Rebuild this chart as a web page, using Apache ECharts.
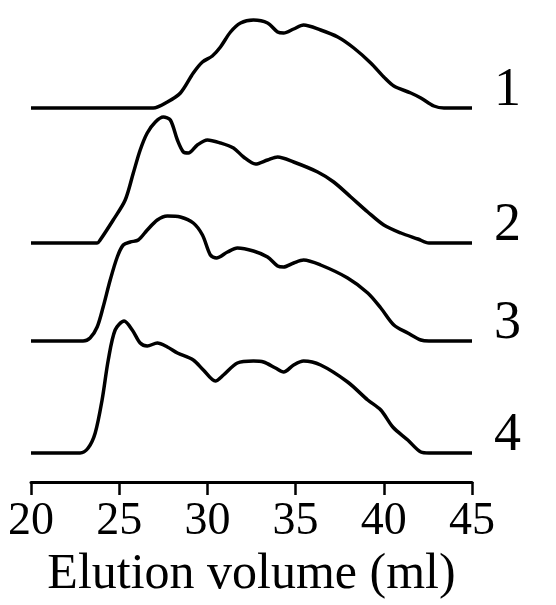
<!DOCTYPE html>
<html>
<head>
<meta charset="utf-8">
<script src="https://cdn.jsdelivr.net/npm/echarts@6/dist/echarts.min.js"></script>
<style>
  html, body { margin: 0; padding: 0; background: #fff; }
  #chart { width: 556px; height: 605px; }
</style>
</head>
<body>
<div id="chart"></div>
<script>
// elution volume (ml) / detector signal
var vol1 = [20, 26.93, 27.73, 28.47, 29.2, 29.72, 30.28, 30.74, 31.31, 31.88, 32.61, 33.41, 33.98, 34.32, 34.89, 35.45, 36.42, 37.39, 38.3, 39.26, 40.0, 40.57, 41.53, 42.1, 42.84, 43.41, 45];
var sig1 = [0, 0, 6, 15, 35, 46, 52, 61, 76, 85, 88, 85, 76, 75, 79, 83, 78, 71, 60, 45, 31, 22, 15, 10, 2, 0, 0];

var vol2 = [20, 23.75, 23.92, 24.66, 25.34, 25.8, 26.19, 26.59, 27.05, 27.5, 27.9, 28.3, 28.64, 28.92, 29.43, 30.0, 30.74, 31.48, 32.05, 32.73, 33.41, 33.98, 34.89, 36.25, 37.16, 38.13, 39.09, 40.0, 40.97, 41.93, 42.56, 45];
var sig2 = [0, 0, 3, 23, 43, 70, 93, 110, 121, 126, 123, 103, 91, 90, 98, 103, 100, 95, 86, 79, 83, 86, 81, 71, 61, 46, 31, 18, 10, 4, 0, 0];

var vol3 = [20, 22.95, 23.35, 23.75, 24.09, 24.49, 24.89, 25.23, 25.63, 26.08, 26.59, 27.16, 27.73, 28.47, 29.2, 29.72, 30.17, 30.51, 31.14, 31.7, 32.61, 33.41, 33.98, 34.32, 34.89, 35.45, 36.42, 37.95, 39.09, 39.83, 40.57, 41.36, 42.1, 42.56, 45];
var sig3 = [0, 0, 3, 14, 34, 61, 84, 96, 99, 101, 111, 121, 125, 124, 118, 106, 86, 83, 89, 93, 90, 84, 75, 74, 78, 81, 76, 63, 48, 33, 16, 8, 1, 0, 0];

var vol4 = [20, 22.78, 23.24, 23.64, 24.03, 24.38, 24.77, 25.28, 25.74, 26.19, 26.59, 27.16, 27.73, 28.3, 29.2, 29.77, 30.45, 30.91, 31.7, 32.61, 33.18, 33.86, 34.32, 34.89, 35.45, 36.42, 37.95, 39.09, 39.83, 40.51, 41.36, 42.1, 42.56, 45];
var sig4 = [0, 0, 5, 20, 53, 93, 123, 132, 123, 110, 107, 110, 106, 100, 93, 83, 72, 78, 90, 92, 91, 85, 81, 88, 92, 88, 71, 53, 43, 26, 13, 1, 0, 0];

var traceNames = ['1', '2', '3', '4'];
var traceOffsets = [374, 239, 141, 29];
var xTicks = [20, 25, 30, 35, 40, 45];

var vols = [vol1, vol2, vol3, vol4];
var sigs = [sig1, sig2, sig3, sig4];
var serif = '"Liberation Serif", "Times New Roman", serif';

var series = traceNames.map(function (name, k) {
    return {
        name: name,
        type: 'line',
        smooth: 0.3,
        symbol: 'none',
        lineStyle: { color: '#000', width: 3.5 },
        data: vols[k].map(function (v, i) {
            return [v, traceOffsets[k] + sigs[k][i]];
        }),
        endLabel: {
            show: true,
            formatter: '{a}',
            color: '#000',
            fontFamily: serif,
            fontSize: 54,
            verticalAlign: 'middle',
            offset: [14, -17]
        }
    };
});

var chart = echarts.init(document.getElementById('chart'));
chart.setOption({
    animation: false,
    backgroundColor: '#fff',
    grid: { left: 31, right: 84, top: 2, bottom: 123 },
    xAxis: {
        type: 'value',
        min: xTicks[0],
        max: xTicks[xTicks.length - 1],
        interval: 5,
        name: 'Elution volume (ml)',
        nameLocation: 'middle',
        nameGap: 57,
        nameTextStyle: { color: '#000', fontFamily: serif, fontSize: 50 },
        axisLine: { lineStyle: { color: '#000', width: 3 } },
        axisTick: { length: 13, lineStyle: { color: '#000', width: 2.5 } },
        axisLabel: { color: '#000', fontFamily: serif, fontSize: 46, margin: 17 },
        splitLine: { show: false }
    },
    yAxis: {
        type: 'value',
        min: 0,
        max: 480,
        show: false
    },
    series: series
});
</script>
</body>
</html>
